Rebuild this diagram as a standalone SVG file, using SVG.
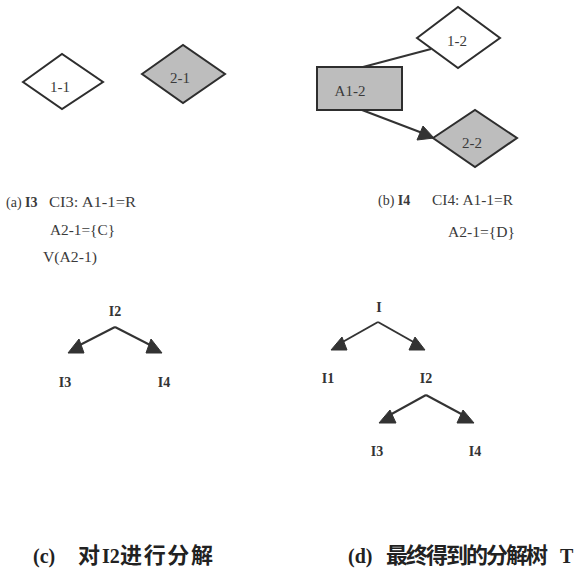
<svg xmlns="http://www.w3.org/2000/svg" width="586" height="570" viewBox="0 0 586 570">
<defs>
<style>
.bg{fill:#ffffff}
.shape{stroke:#2e2e2e;stroke-width:2;stroke-linejoin:miter}
.white{fill:#ffffff}
.grey{fill:#bdbdbd}
.lbl{font-family:"Liberation Serif","Times New Roman",serif;font-size:15px;fill:#3a3a3a;text-anchor:middle}
.txt{font-family:"Liberation Serif","Times New Roman",serif;font-size:14px;fill:#3a3a3a}
.b{font-weight:bold}
.tree{font-family:"Liberation Serif","Times New Roman",serif;font-size:14px;font-weight:bold;fill:#333;text-anchor:middle}
.edge{stroke:#333;stroke-width:2;fill:none}
.head{fill:#333;stroke:#333;stroke-width:1;stroke-linejoin:round}
.cap{font-family:"Liberation Serif","Noto Sans CJK SC",serif;font-size:20px;font-weight:bold;fill:#222}
.cjk{font-family:"Noto Sans CJK SC",sans-serif;font-size:22px;font-weight:bold;fill:#222}
</style>
</defs>
<rect class="bg" x="0" y="0" width="586" height="570"/>

<!-- (a) -->
<g id="node-1-1">
<polygon class="shape white" points="23,82 62,54 103,82 62,109"/>
<text class="lbl" x="60" y="92">1-1</text>
</g>
<g id="node-2-1">
<polygon class="shape grey" points="142,74 183,45 225,74 183,103"/>
<text class="lbl" x="180" y="83">2-1</text>
</g>

<!-- (b) -->
<g id="connectors-b">
<line class="edge" x1="363" y1="67" x2="431" y2="49"/>
<line class="edge" x1="362" y1="110" x2="425" y2="134"/>
<polygon class="head" points="417,140 434,138 423,126"/>
</g>
<g id="node-1-2">
<polygon class="shape white" points="417,38 458,7 500,38 458,68"/>
<text class="lbl" x="457" y="46">1-2</text>
</g>
<g id="node-A1-2">
<rect class="shape grey" x="317" y="67" width="85" height="43"/>
<text class="lbl" x="350" y="96">A1-2</text>
</g>
<g id="node-2-2">
<polygon class="shape grey" points="433,138 475,110 517,138 475,167"/>
<text class="lbl" x="472" y="148">2-2</text>
</g>

<!-- texts (a) and (b) -->
<g id="text-a">
<text class="txt" x="6" y="207">(a) <tspan class="b">I3</tspan></text>
<text class="txt" x="49" y="207" textLength="87" lengthAdjust="spacingAndGlyphs">CI3: A1-1=R</text>
<text class="txt" x="50" y="235" textLength="65" lengthAdjust="spacingAndGlyphs">A2-1={C}</text>
<text class="txt" x="43" y="262" textLength="54" lengthAdjust="spacingAndGlyphs">V(A2-1)</text>
</g>
<g id="text-b">
<text class="txt" x="378" y="205">(b) <tspan class="b">I4</tspan></text>
<text class="txt" x="432" y="205" textLength="81" lengthAdjust="spacingAndGlyphs">CI4: A1-1=R</text>
<text class="txt" x="448" y="237" textLength="67" lengthAdjust="spacingAndGlyphs">A2-1={D}</text>
</g>

<!-- (c) tree -->
<g id="connectors-c">
<line class="edge" x1="115" y1="327" x2="76" y2="347"/>
<line class="edge" x1="115" y1="327" x2="154" y2="347"/>
<polygon class="head" points="68,353 84,353 79,339"/>
<polygon class="head" points="162,353 146,353 151,339"/>
</g>
<g id="node-c-I2"><text class="tree" x="115" y="316">I2</text></g>
<g id="node-c-I3"><text class="tree" x="65" y="387">I3</text></g>
<g id="node-c-I4"><text class="tree" x="164" y="387">I4</text></g>

<!-- (d) tree -->
<g id="connectors-d">
<line class="edge" x1="378" y1="322" x2="339" y2="344"/>
<line class="edge" x1="378" y1="322" x2="417" y2="344"/>
<polygon class="head" points="331,350 347,350 342,337"/>
<polygon class="head" points="425,350 409,350 415,337"/>
<line class="edge" x1="426" y1="395" x2="388" y2="416"/>
<line class="edge" x1="426" y1="395" x2="465" y2="416"/>
<polygon class="head" points="379,423 396,423 390,410"/>
<polygon class="head" points="474,423 457,423 463,410"/>
</g>
<g id="node-d-I"><text class="tree" x="379" y="312">I</text></g>
<g id="node-d-I1"><text class="tree" x="328" y="383">I1</text></g>
<g id="node-d-I2"><text class="tree" x="426" y="383">I2</text></g>
<g id="node-d-I3"><text class="tree" x="377" y="456">I3</text></g>
<g id="node-d-I4"><text class="tree" x="475" y="456">I4</text></g>

<!-- captions -->
<g id="caption-c">
<text class="cap" x="33" y="563">(c)</text>
<text class="cjk" x="78" y="563">对</text>
<text class="cap" x="102" y="563">I2</text>
<text class="cjk" x="120" y="563" textLength="93" lengthAdjust="spacing">进行分解</text>
</g>
<g id="caption-d">
<text class="cap" x="348" y="563">(d)</text>
<text class="cjk" x="386" y="563" textLength="162" lengthAdjust="spacing">最终得到的分解树</text>
<text class="cap" x="560" y="563">T</text>
</g>
</svg>
